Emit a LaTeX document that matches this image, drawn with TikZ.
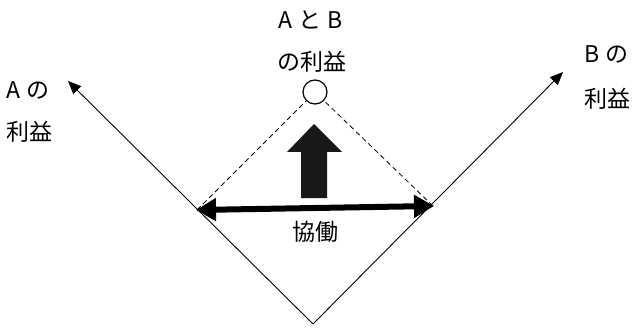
\documentclass[tikz,border=0pt]{standalone}
\usepackage{fontspec}
\setmainfont{Noto Sans CJK JP}
\usetikzlibrary{arrows.meta}
\begin{document}
\begin{tikzpicture}[x=1pt,y=-1pt,
  axis/.style={line width=0.9pt,-{Triangle[length=13pt,width=11pt]}},
  dashline/.style={line width=0.8pt,dash pattern=on 5pt off 3.5pt},
  coop/.style={line width=6pt,{Triangle[length=20pt,width=22pt]}-{Triangle[length=20pt,width=22pt]},shorten <=-1pt,shorten >=-1pt},
  lbl/.style={font=\fontsize{23pt}{26pt}\selectfont,inner sep=0pt,text=black},
  goal/.style={circle,draw,line width=1.2pt,minimum size=24pt,inner sep=0pt}]
\useasboundingbox (0,0) rectangle (633,329);
\coordinate (O) at (313,324);
\coordinate (Atip) at (68,81);
\coordinate (Btip) at (563,72);
\coordinate (P) at (197,210);
\coordinate (Q) at (433,206);
\node[goal] (C) at (315,92) {};
\draw[axis] (O) -- (Atip);
\draw[axis] (O) -- (Btip);
\draw[dashline] (P) -- (C);
\draw[dashline] (Q) -- (C);
\draw[coop] (P) -- (Q);
\fill[black!90] (301,198) -- (301,152) -- (287,152) -- (314,124) -- (342,152) -- (327,152) -- (327,198) -- cycle;
\node[lbl] (t1) at (311,20) {A\hspace{6pt}と\hspace{6pt}B};
\node[lbl] (t2) at (312,62) {の利益};
\node[lbl,anchor=west] (a1) at (6,90) {A\hspace{6pt}の};
\node[lbl,anchor=west] (a2) at (6,132) {利益};
\node[lbl,anchor=west] (b1) at (584,54) {B\hspace{6pt}の};
\node[lbl,anchor=west] (b2) at (584,99) {利益};
\node[lbl] (k) at (315,232) {協働};
\end{tikzpicture}
\end{document}
